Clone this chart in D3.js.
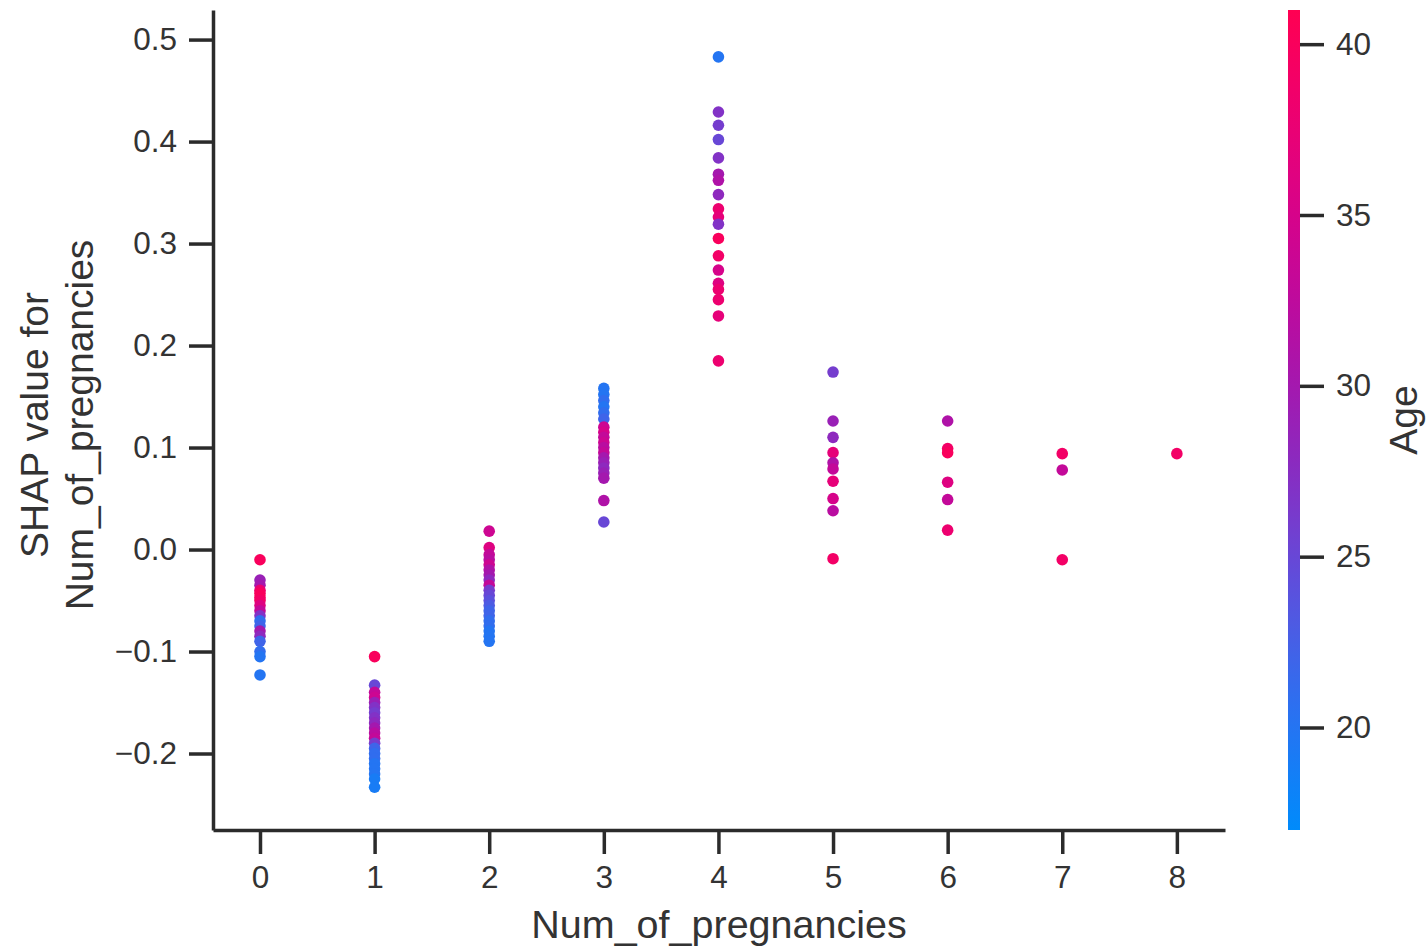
<!DOCTYPE html>
<html>
<head>
<meta charset="utf-8">
<script src="https://cdn.jsdelivr.net/npm/d3@7"></script>
<style>
  body { margin: 0; background: #fff; }
  svg text { font-family: "Liberation Sans", Arial, sans-serif; fill: #333; }
</style>
</head>
<body>
<div id="chart"></div>
<script>
// Data (one entry per dot)
const pregnancies = [
    0,0,0,0,0,0,0,0,0,0,0,0,0,0,0,0,0,0,
    1,1,1,1,1,1,1,1,1,1,1,1,1,1,1,1,1,1,1,1,1,
    2,2,2,2,2,2,2,2,2,2,2,2,2,2,2,2,2,2,2,2,
    3,3,3,3,3,3,3,3,3,3,3,3,3,3,3,3,3,3,3,
    4,4,4,4,4,4,4,4,4,4,4,4,4,4,4,4,4,4,4,
    5,5,5,5,5,5,5,5,5,5,
    6,6,6,6,6,6,
    7,7,7,
    8
];
const shapValues = [
    -0.010,-0.030,-0.035,-0.040,-0.043,-0.047,-0.050,-0.055,-0.060,-0.065,-0.070,-0.075,-0.080,-0.085,-0.090,-0.100,-0.105,-0.123,
    -0.105,-0.133,-0.140,-0.145,-0.150,-0.155,-0.160,-0.165,-0.170,-0.175,-0.180,-0.185,-0.190,-0.195,-0.200,-0.205,-0.210,-0.215,-0.220,-0.225,-0.233,
    0.018,0.002,-0.005,-0.010,-0.015,-0.020,-0.025,-0.030,-0.035,-0.040,-0.045,-0.050,-0.055,-0.060,-0.065,-0.070,-0.075,-0.080,-0.085,-0.090,
    0.158,0.152,0.146,0.140,0.134,0.128,0.120,0.115,0.110,0.105,0.100,0.095,0.090,0.085,0.080,0.075,0.070,0.048,0.027,
    0.483,0.429,0.416,0.402,0.384,0.368,0.362,0.348,0.334,0.326,0.319,0.305,0.288,0.274,0.261,0.255,0.245,0.229,0.185,
    0.174,0.126,0.110,0.095,0.085,0.079,0.067,0.050,0.038,-0.009,
    0.126,0.099,0.095,0.066,0.049,0.019,
    0.094,0.078,-0.010,
    0.094
];
const ages = [
    40,29,30,38,40,40,39,36,33,27,21,22,30,28,22,21,20,20,
    40,25,33,34,29,27,26,27,28,30,32,33,26,22,21,21,20,20,20,19,19,
    34,36,33,32,34,31,30,28,33,26,25,24,23,22,22,21,21,20,20,20,
    20,20,21,20,21,22,34,35,33,34,32,33,30,29,28,29,30,31,25,
    20,27,26,25,27,30,31,28,38,37,27,40,39,35,36,38,38,37,38,
    26,29,28,37,31,33,37,35,32,39,
    31,39,40,36,33,38,
    39,33,39,
    39
];
const xTicks = [0, 1, 2, 3, 4, 5, 6, 7, 8];
const yTicks = [-0.2, -0.1, 0.0, 0.1, 0.2, 0.3, 0.4, 0.5];
const ageTicks = [20, 25, 30, 35, 40];
const ageRange = [17, 41];

const points = pregnancies.map((p, i) => ({ p: p, shap: shapValues[i], age: ages[i] }));

const W = 1428, H = 950;
const plot = { left: 213, right: 1225, top: 10, bottom: 830 };

const svg = d3.select("#chart").append("svg")
    .attr("width", W)
    .attr("height", H);

// Scales
const x = d3.scaleLinear().domain([-0.41, 8.42]).range([plot.left, plot.right]);
const y = d3.scaleLinear().domain([-0.275, 0.529]).range([plot.bottom, plot.top]);

// red_blue colormap, stops picked off the reference colorbar (blue -> purple -> red)
const cmapStops = ["#008bfb", "#2f6ef0", "#6a48d8", "#9a1cb4", "#c4069a", "#e8007a", "#ff0052"];
const color = d3.scaleSequential(d3.interpolateRgbBasis(cmapStops)).domain(ageRange);

// Axes
const xAxis = d3.axisBottom(x).tickValues(xTicks).tickFormat(d3.format("d"))
    .tickSizeInner(24).tickSizeOuter(0).tickPadding(10);
const yAxis = d3.axisLeft(y).tickValues(yTicks).tickFormat(d3.format(".1f"))
    .tickSizeInner(24).tickSizeOuter(0).tickPadding(12);

const gx = svg.append("g")
    .attr("transform", `translate(0,${plot.bottom})`)
    .call(xAxis);
const gy = svg.append("g")
    .attr("transform", `translate(${plot.left},0)`)
    .call(yAxis);

[gx, gy].forEach(g => {
    g.select(".domain").attr("stroke", "#2b2b2b").attr("stroke-width", 3.5);
    g.selectAll(".tick line").attr("stroke", "#2b2b2b").attr("stroke-width", 3.5);
    g.selectAll(".tick text").style("font-size", "31.5px").attr("fill", "#404040");
});
gx.selectAll(".tick text").attr("dy", "0.75em");

// Axis labels
svg.append("text")
    .attr("x", (plot.left + plot.right) / 2)
    .attr("y", 938)
    .style("text-anchor", "middle")
    .style("font-size", "39.5px")
    .text("Num_of_pregnancies");

const yLabel = svg.append("text")
    .attr("transform", `translate(48,${(plot.top + plot.bottom) / 2 + 5}) rotate(-90)`)
    .style("text-anchor", "middle")
    .style("font-size", "39px");
yLabel.append("tspan").attr("x", 0).attr("dy", 0).text("SHAP value for");
yLabel.append("tspan").attr("x", 0).attr("dy", "1.16em").text("Num_of_pregnancies");

// Dots
svg.append("g")
    .selectAll("circle")
    .data(points)
    .join("circle")
    .attr("cx", d => x(d.p))
    .attr("cy", d => y(d.shap))
    .attr("r", 5.8)
    .attr("fill", d => color(d.age));

// Colorbar
const cb = { x: 1288, width: 12 };
const cbY = d3.scaleLinear().domain(ageRange).range([plot.bottom, plot.top]);

const grad = svg.append("defs").append("linearGradient")
    .attr("id", "cbgrad")
    .attr("x1", 0).attr("y1", 1).attr("x2", 0).attr("y2", 0);
d3.range(0, 1.0001, 0.05).forEach(t => {
    grad.append("stop")
        .attr("offset", t)
        .attr("stop-color", color(ageRange[0] + t * (ageRange[1] - ageRange[0])));
});

svg.append("rect")
    .attr("x", cb.x)
    .attr("y", plot.top)
    .attr("width", cb.width)
    .attr("height", plot.bottom - plot.top)
    .attr("fill", "url(#cbgrad)");

const cbAxis = d3.axisRight(cbY).tickValues(ageTicks).tickFormat(d3.format("d"))
    .tickSizeInner(24).tickSizeOuter(0).tickPadding(12);
const gcb = svg.append("g")
    .attr("transform", `translate(${cb.x + cb.width},0)`)
    .call(cbAxis);
gcb.select(".domain").remove();
gcb.selectAll(".tick line").attr("stroke", "#2b2b2b").attr("stroke-width", 3.5);
gcb.selectAll(".tick text").style("font-size", "31.5px").attr("fill", "#404040");

svg.append("text")
    .attr("transform", `translate(1417,${(plot.top + plot.bottom) / 2}) rotate(-90)`)
    .style("text-anchor", "middle")
    .style("font-size", "39px")
    .text("Age");
</script>
</body>
</html>
